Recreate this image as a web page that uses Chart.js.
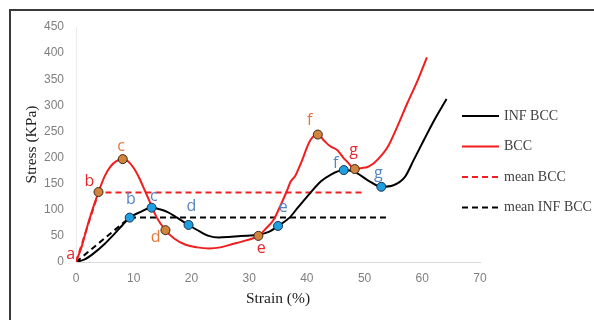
<!DOCTYPE html>
<html>
<head>
<meta charset="utf-8">
<script src="https://cdn.jsdelivr.net/npm/chart.js@4.4.0/dist/chart.umd.min.js"></script>
<style>
html,body{margin:0;padding:0;background:#fff;}
#wrap{position:relative;width:594px;height:320px;overflow:hidden;background:#fff;}
#frame{position:absolute;left:9px;top:9px;width:700px;height:400px;border-left:2px solid #3a3a3a;border-top:2px solid #3a3a3a;}
#myChart{position:absolute;left:0;top:0;}
</style>
</head>
<body>
<div id="wrap">
  <div id="frame"></div>
  <canvas id="myChart" width="594" height="320"></canvas>
</div>
<script>
// Curva BCC (roja)
const bccStrain = [0,1,2,3,3.9,5,6,7,8.1,9,10,11,12,13,14,15.5,17,19,21,23,25,27,29,31.6,33,34.3,35.5,36.5,37.2,38,39,40.6,41.9,43,44,45.3,46.3,47,48.3,49.5,50.5,51.6,53,54,55.5,57.4,59.2,60.8];
const bccStress = [0,30,70,105,134,165,183,193,197,193,180,160,135,110,85,61,45,33,28,26,28,34,40,50,65,82,110,135,154,165,190,233,244,232,222,214,200,192,178,180,182,189,205,220,255,304,348,392];

// Curva INF BCC (negra)
const infStrain = [0,1.5,3,5,6.5,8,9.3,11,13.1,14.5,15.8,17.5,19.5,21.5,23,24.7,26.5,28.5,31.6,33.5,35,37,38.5,40.5,42.4,44.1,46.4,48.2,50.5,52.9,55,57,58.5,60.3,62,64.2];
const infStress = [0,5,16,35,52,70,85,95,104,101,96,85,71,58,50,47,48,50,52,58,69,85,105,131,154,167,176,173,157,144,147,163,195,234,270,312];

// Medias
const meanBccStrain = [0,3.9,50];
const meanBccStress = [0,133,133];
const meanInfStrain = [0,9.3,53.7];
const meanInfStress = [0,85,85];

// Puntos marcados
const bccPtStrain = [3.9,8.1,15.5,31.6,41.9,48.3];
const bccPtStress = [134,197,61,50,244,178];
const infPtStrain = [9.3,13.1,19.5,35,46.4,52.9];
const infPtStress = [85,104,71,69,176,144];

// Letras
const bccLetters = ['a','b','c','d','e','f','g'];
const bccLetterX = [-0.9,2.3,7.8,13.8,32.1,40.5,48.1];
const bccLetterY = [15,154,221,47,26,272,213];
const bccLetterColor = ['#e8262a','#e8262a','#e4763a','#e4763a','#e8262a','#e4763a','#e8262a'];
const infLetters = ['b','c','d','e','f','g'];
const infLetterX = [9.5,13.5,20,35.9,45.0,52.4];
const infLetterY = [119,125,106,105,188,170];

const xTicks = [0,10,20,30,40,50,60,70];
const yTicks = [0,50,100,150,200,250,300,350,400,450];

function toPoints(xs, ys){
    return xs.map((x,i)=>({x:x, y:ys[i]}));
}

const letterPlugin = {
    id:'letters',
    afterDatasetsDraw(chart){
        const {ctx, scales:{x, y}} = chart;
        ctx.save();
        ctx.font = '16px "Open Sans", sans-serif';
        ctx.textAlign = 'center';
        ctx.textBaseline = 'middle';
        bccLetters.forEach((t,i)=>{
            ctx.fillStyle = bccLetterColor[i];
            ctx.fillText(t, x.getPixelForValue(bccLetterX[i]), y.getPixelForValue(bccLetterY[i]));
        });
        ctx.fillStyle = '#5585c4';
        infLetters.forEach((t,i)=>{
            ctx.fillText(t, x.getPixelForValue(infLetterX[i]), y.getPixelForValue(infLetterY[i]));
        });
        ctx.restore();
    }
};

const legendPlugin = {
    id:'sideLegend',
    afterDraw(chart){
        const ctx = chart.ctx;
        const items = chart.data.datasets.filter(d=>d.inLegend).sort((a,b)=>a.legendPos-b.legendPos);
        const left = chart.chartArea.right - 18;
        ctx.save();
        ctx.font = '14px "Liberation Serif", serif';
        ctx.textBaseline = 'middle';
        items.forEach((d,i)=>{
            const yy = 116 + i*30.5;
            ctx.strokeStyle = d.borderColor;
            ctx.lineWidth = 2;
            ctx.setLineDash(d.borderDash || []);
            ctx.beginPath();
            ctx.moveTo(left, yy);
            ctx.lineTo(left+37, yy);
            ctx.stroke();
            ctx.fillStyle = '#404040';
            ctx.fillText(d.label, left+42, yy);
        });
        ctx.restore();
    }
};

const data = {
    datasets:[
        {label:'bccPts', data:toPoints(bccPtStrain,bccPtStress), showLine:false, pointRadius:4.5,
         pointBackgroundColor:'#d2843d', pointBorderColor:'#3b2a1a', pointBorderWidth:1, order:0},
        {label:'infPts', data:toPoints(infPtStrain,infPtStress), showLine:false, pointRadius:4.5,
         pointBackgroundColor:'#1d9fe0', pointBorderColor:'#1b3050', pointBorderWidth:1, order:0},
        {label:'BCC', data:toPoints(bccStrain,bccStress), showLine:true, borderColor:'#f01e1e', borderWidth:2,
         pointRadius:0, cubicInterpolationMode:'monotone', order:2, inLegend:true, legendPos:1},
        {label:'INF BCC', data:toPoints(infStrain,infStress), showLine:true, borderColor:'#000000', borderWidth:2,
         pointRadius:0, cubicInterpolationMode:'monotone', order:3, inLegend:true, legendPos:0},
        {label:'mean BCC', data:toPoints(meanBccStrain,meanBccStress), showLine:true, borderColor:'#f01e1e', borderWidth:2,
         borderDash:[6,4], pointRadius:0, order:4, inLegend:true, legendPos:2},
        {label:'mean INF BCC', data:toPoints(meanInfStrain,meanInfStress), showLine:true, borderColor:'#000000', borderWidth:2,
         borderDash:[6,4], pointRadius:0, order:5, inLegend:true, legendPos:3}
    ]
};

const config = {
    type:'scatter',
    data,
    options:{
        responsive:false,
        animation:false,
        layout:{padding:{left:18, top:27, right:114, bottom:8}},
        plugins:{legend:{display:false}, tooltip:{enabled:false}},
        scales:{
            x:{
                type:'linear', min:0, max:70,
                afterBuildTicks:(s)=>{ s.ticks = xTicks.map(v=>({value:v})); },
                afterFit:(s)=>{ s.height = 50; },
                grid:{display:false, drawTicks:false},
                border:{display:true, color:'#d9d9d9', width:1},
                ticks:{padding:9, color:'#7f7f7f', font:{family:'"Liberation Sans", sans-serif', size:12}, maxRotation:0},
                title:{display:true, text:'Strain (%)', color:'#222', padding:{top:0,bottom:4},
                       font:{family:'"Liberation Serif", serif', size:15.5}}
            },
            y:{
                type:'linear', min:0, max:450,
                afterBuildTicks:(s)=>{ s.ticks = yTicks.map(v=>({value:v})); },
                afterFit:(s)=>{ s.width = 58; },
                grid:{display:false, drawTicks:false},
                border:{display:true, color:'#ececec', width:1},
                ticks:{padding:12, color:'#7f7f7f', font:{family:'"Liberation Sans", sans-serif', size:12}},
                title:{display:true, text:'Stress (KPa)', color:'#222', padding:{top:5,bottom:0},
                       font:{family:'"Liberation Serif", serif', size:15.5}}
            }
        }
    },
    plugins:[letterPlugin, legendPlugin]
};

const myChart = new Chart(document.querySelector('#myChart'), config);
</script>
</body>
</html>
